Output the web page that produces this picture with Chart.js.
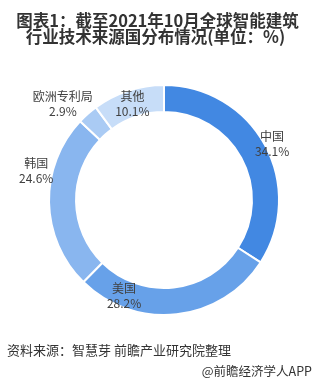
<!DOCTYPE html>
<html>
<head>
<meta charset="utf-8">
<script src="https://cdn.jsdelivr.net/npm/chart.js@4.4.0/dist/chart.umd.min.js"></script>
<style>
  html, body { margin: 0; padding: 0; background: #fff; }
  #wrap { position: relative; width: 313px; height: 382px; overflow: hidden; }
  #chart { position: absolute; left: 0; top: 0; }
  .title {
    position: absolute; left: 0; width: 313px; text-align: center;
    font-family: "Noto Sans CJK SC", sans-serif; font-weight: bold;
    font-size: 16.5px; line-height: 16px; color: #333;
  }
  .src {
    position: absolute; font-family: "Noto Sans CJK SC", sans-serif;
    font-size: 13px; color: #333; white-space: nowrap;
  }
</style>
</head>
<body>
<div id="wrap">
  <canvas id="chart" width="313" height="382"></canvas>
  <div class="title" style="top:12px; left:1px;">图表1：截至2021年10月全球智能建筑</div>
  <div class="title" style="top:28px; left:-1px;">行业技术来源国分布情况(单位：%)</div>
  <div class="src" style="left:7px; top:340px;">资料来源：智慧芽 前瞻产业研究院整理</div>
  <div class="src" style="right:1px; top:361px; font-size:12.5px;">@前瞻经济学人APP</div>
</div>
<script>
// Data
const categories = ['中国', '美国', '韩国', '欧洲专利局', '其他'];
const shares = [34.1, 28.2, 24.6, 2.9, 10.1];
const sliceColors = ['#4288e2', '#67a1e9', '#89b6ef', '#aacbf4', '#c7ddf8'];

// label placement tweaks (degrees off the slice middle, radius as share of outer radius)
const labelTurn = [1, 29, 14, -5, 0];
const labelReach = [1.06, 0.9, 1.14, 1.21, 0.88];

const sliceLabels = {
  id: 'sliceLabels',
  afterDatasetsDraw(chart) {
    const ctx = chart.ctx;
    const meta = chart.getDatasetMeta(0);
    ctx.save();
    ctx.font = '12px "Noto Sans CJK SC", sans-serif';
    ctx.fillStyle = '#404040';
    ctx.textAlign = 'center';
    ctx.textBaseline = 'middle';
    meta.data.forEach((arc, i) => {
      const p = arc.getProps(['x', 'y', 'startAngle', 'endAngle', 'outerRadius'], true);
      const a = (p.startAngle + p.endAngle) / 2 + labelTurn[i] * Math.PI / 180;
      const r = p.outerRadius * labelReach[i];
      const cx = p.x + Math.cos(a) * r;
      const cy = p.y + Math.sin(a) * r;
      ctx.fillText(categories[i], cx, cy - 7.5);
      ctx.fillText(shares[i].toFixed(1) + '%', cx, cy + 7.5);
    });
    ctx.restore();
  }
};

new Chart(document.getElementById('chart'), {
  type: 'doughnut',
  data: {
    labels: categories,
    datasets: [{
      data: shares,
      backgroundColor: sliceColors,
      borderColor: '#ffffff',
      borderWidth: 2
    }]
  },
  options: {
    responsive: false,
    animation: false,
    cutout: '76.5%',
    layout: { padding: { left: 48, top: 84, right: 33, bottom: 66 } },
    plugins: {
      legend: { display: false },
      tooltip: { enabled: false }
    }
  },
  plugins: [sliceLabels]
});
</script>
</body>
</html>
